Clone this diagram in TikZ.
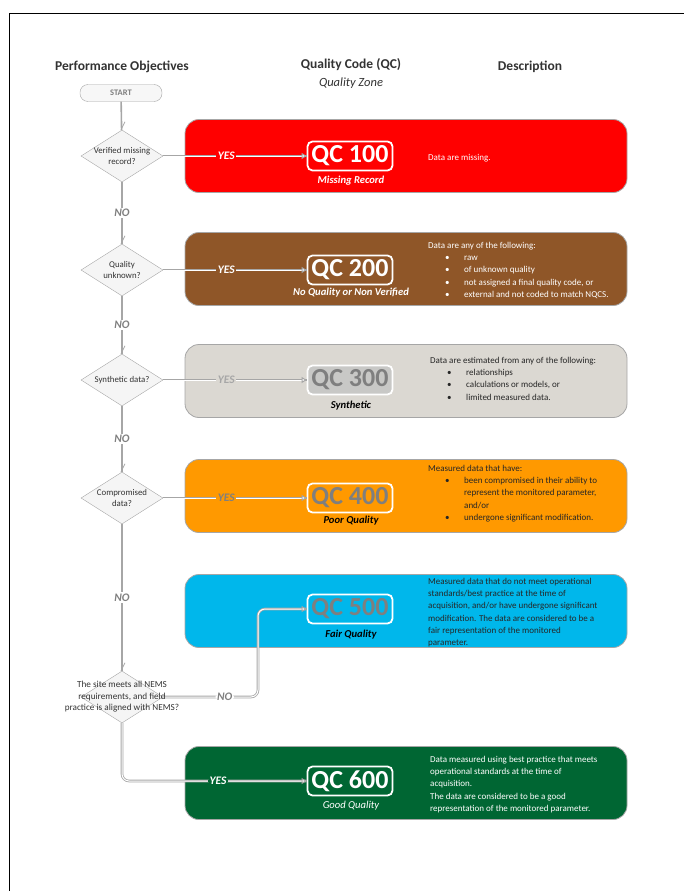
\documentclass[tikz,border=0pt]{standalone}
\usepackage{fontspec}
\setmainfont{Carlito}
\usetikzlibrary{shapes.geometric,arrows.meta}
\definecolor{qcred}{RGB}{255,0,0}
\definecolor{qcbrown}{RGB}{143,86,40}
\definecolor{qcgray}{RGB}{219,216,210}
\definecolor{qcgrayin}{RGB}{200,200,198}
\definecolor{qcorange}{RGB}{255,153,0}
\definecolor{qcblue}{RGB}{0,183,235}
\definecolor{qcgreen}{RGB}{0,102,51}
\definecolor{lgray}{RGB}{166,166,166}
\definecolor{tgray}{RGB}{127,127,127}
\newcommand{\descbul}{\makebox[36pt][l]{\hspace{17pt}\textbullet}}
\newcommand{\descind}{\hspace*{36pt}}
\begin{document}
\begin{tikzpicture}[x=1pt,y=-1pt,
	zone/.style={draw=gray!70, line width=.8pt, rounded corners=14pt, minimum width=442pt, minimum height=73pt, inner sep=0},
	qcbox/.style={draw=white, line width=1.8pt, rounded corners=5pt, minimum width=85pt, minimum height=29pt, inner sep=0, font=\fontsize{26}{26}\selectfont\bfseries},
	caption/.style={font=\fontsize{10.6}{12}\selectfont\bfseries\itshape},
	desc/.style={anchor=north west, inner sep=0, align=left, font=\fontsize{9}{12.2}\selectfont},
	dec/.style={diamond, draw=lgray, fill=gray!8, minimum width=82pt, minimum height=52pt, inner sep=0},
	dectext/.style={align=center, text=black!80, font=\fontsize{8.8}{11.5}\selectfont},
	head/.style={text=black!80, font=\fontsize{13.5}{15}\selectfont\bfseries},
	noline/.style={draw=lgray, line width=1.6pt},
	yesline/.style={draw=white, line width=1pt, preaction={draw=lgray, line width=2.6pt, -}, -{Triangle[length=5pt,width=6pt,color=lgray,fill=white]}},
	nolabel/.style={fill=white, inner sep=1.5pt, text=tgray, font=\fontsize{11.5}{13}\selectfont\bfseries\itshape},
	yeslabel/.style={inner sep=1.5pt, font=\fontsize{11.5}{13}\selectfont\bfseries\itshape},
	tick/.style={draw=lgray, line width=.8pt}]
	\useasboundingbox (0,0) rectangle (684,891);
	\draw[line width=.8pt] (9.5,891) -- (9.5,13.5) -- (684,13.5);

	% column heads
	\node[head] (H1) at (122,67) {Performance Objectives};
	\node[head] (H2) at (351,65) {Quality Code (QC)};
	\node[text=black!80, font=\fontsize{12.5}{14}\selectfont\itshape] (H3) at (351,83) {Quality Zone};
	\node[head] (H4) at (530,67) {Description};

	% quality zones
	\node[zone, fill=qcred] (Z1) at (406,156) {};
	\node[zone, fill=qcbrown] (Z2) at (406,269) {};
	\node[zone, fill=qcgray] (Z3) at (406,381) {};
	\node[zone, fill=qcorange] (Z4) at (406,496) {};
	\node[zone, fill=qcblue] (Z5) at (406,611) {};
	\node[zone, fill=qcgreen] (Z6) at (406,783) {};

	\node[qcbox, text=white] (Q1) at (350,156) {QC 100};
	\node[qcbox, text=white] (Q2) at (350,270) {QC 200};
	\node[qcbox, fill=qcgrayin, text=tgray] (Q3) at (350,380) {QC 300};
	\node[qcbox, text=tgray] (Q4) at (350,498) {QC 400};
	\node[qcbox, text=tgray] (Q5) at (350,609) {QC 500};
	\node[qcbox, text=white] (Q6) at (350,781) {QC 600};

	\node[caption, text=white] (C1) at (351,181) {Missing Record};
	\node[caption, text=white] (C2) at (351,293) {No Quality or Non Verified};
	\node[caption, text=black] (C3) at (351,406) {Synthetic};
	\node[caption, text=black] (C4) at (351,521) {Poor Quality};
	\node[caption, text=black] (C5) at (351,635) {Fair Quality};
	\node[caption, text=white, font=\fontsize{10.6}{12}\selectfont\itshape] (C6) at (351,806) {Good Quality};

	% descriptions
	\node[desc, anchor=west, text=white] (T1) at (428,158) {Data are missing.};
	\node[desc, text=white] (T2) at (428,242) {Data are any of the following:\\
		\descbul raw\\
		\descbul of unknown quality\\
		\descbul not assigned a final quality code, or\\
		\descbul external and not coded to match NQCS.};
	\node[desc, text=black!85] (T3) at (430,357) {Data are estimated from any of the following:\\
		\descbul relationships\\
		\descbul calculations or models, or\\
		\descbul limited measured data.};
	\node[desc, text=black!85] (T4) at (428,465) {Measured data that have:\\
		\descbul been compromised in their ability to\\
		\descind represent the monitored parameter,\\
		\descind and/or\\
		\descbul undergone significant modification.};
	\node[desc, text=black!85] (T5) at (428,578) {Measured data that do not meet operational\\
		standards/best practice at the time of\\
		acquisition, and/or have undergone significant\\
		modification. The data are considered to be a\\
		fair representation of the monitored\\
		parameter.};
	\node[desc, text=white] (T6) at (430,756) {Data measured using best practice that meets\\
		operational standards at the time of\\
		acquisition.\\
		The data are considered to be a good\\
		representation of the monitored parameter.};

	% performance objectives
	\node[draw=lgray, fill=gray!6, rounded corners=8pt, minimum width=82pt, minimum height=17pt, inner sep=0, text=tgray, font=\fontsize{8.5}{9}\selectfont\bfseries] (S) at (121,93) {START};
	\node[dec] (D1) at (122,156) {};
	\node[dec] (D2) at (122,270) {};
	\node[dec] (D3) at (122,380) {};
	\node[dec] (D4) at (122,498) {};
	\node[dec] (D5) at (122,697) {};
	\coordinate (K5) at (258,697);

	\draw[noline] (S) -- (D1);
	\draw[noline] (D1.south) -- node[nolabel] {NO} (D2.north);
	\draw[noline] (D2.south) -- node[nolabel] {NO} (D3.north);
	\draw[noline] (D3.south) -- node[nolabel] {NO} (D4.north);
	\draw[noline] (D4.south) -- node[nolabel] {NO} (D5.north);
	\draw[tick] ([xshift=-1pt]D1.north) -- ++(4,-8);
	\draw[tick] ([xshift=-1pt]D2.north) -- ++(4,-8);
	\draw[tick] ([xshift=-1pt]D3.north) -- ++(4,-8);
	\draw[tick] ([xshift=-1pt]D4.north) -- ++(4,-8);
	\draw[tick] ([xshift=-1pt]D5.north) -- ++(4,-8);

	\draw[yesline] (D1.east) -- node[yeslabel, pos=.44, fill=qcred, text=white] {YES} (Q1.west);
	\draw[yesline] (D2.east) -- node[yeslabel, pos=.44, fill=qcbrown, text=white] {YES} (Q2.west);
	\draw[yesline] (D3.east) -- node[yeslabel, pos=.44, fill=qcgray, text=lgray] {YES} (Q3.west);
	\draw[yesline] (D4.east) -- node[yeslabel, pos=.44, fill=qcorange, text=tgray] {YES} (Q4.west);
	\draw[yesline, rounded corners=7pt] (D5.east) -- node[nolabel, pos=.65] {NO} (K5) |- (Q5.west);
	\draw[yesline, rounded corners=7pt] (D5.south) |- node[yeslabel, pos=.76, fill=qcgreen, text=white] {YES} (Q6.west);

	\node[dectext] (P1) at (D1) {Verified missing\\record?};
	\node[dectext] (P2) at (D2) {Quality\\unknown?};
	\node[dectext] (P3) at (D3) {Synthetic data?};
	\node[dectext] (P4) at (D4) {Compromised\\data?};
	\node[dectext, font=\fontsize{9.2}{11.5}\selectfont] (P5) at (D5) {The site meets all NEMS\\requirements, and field\\practice is aligned with NEMS?};
\end{tikzpicture}
\end{document}
